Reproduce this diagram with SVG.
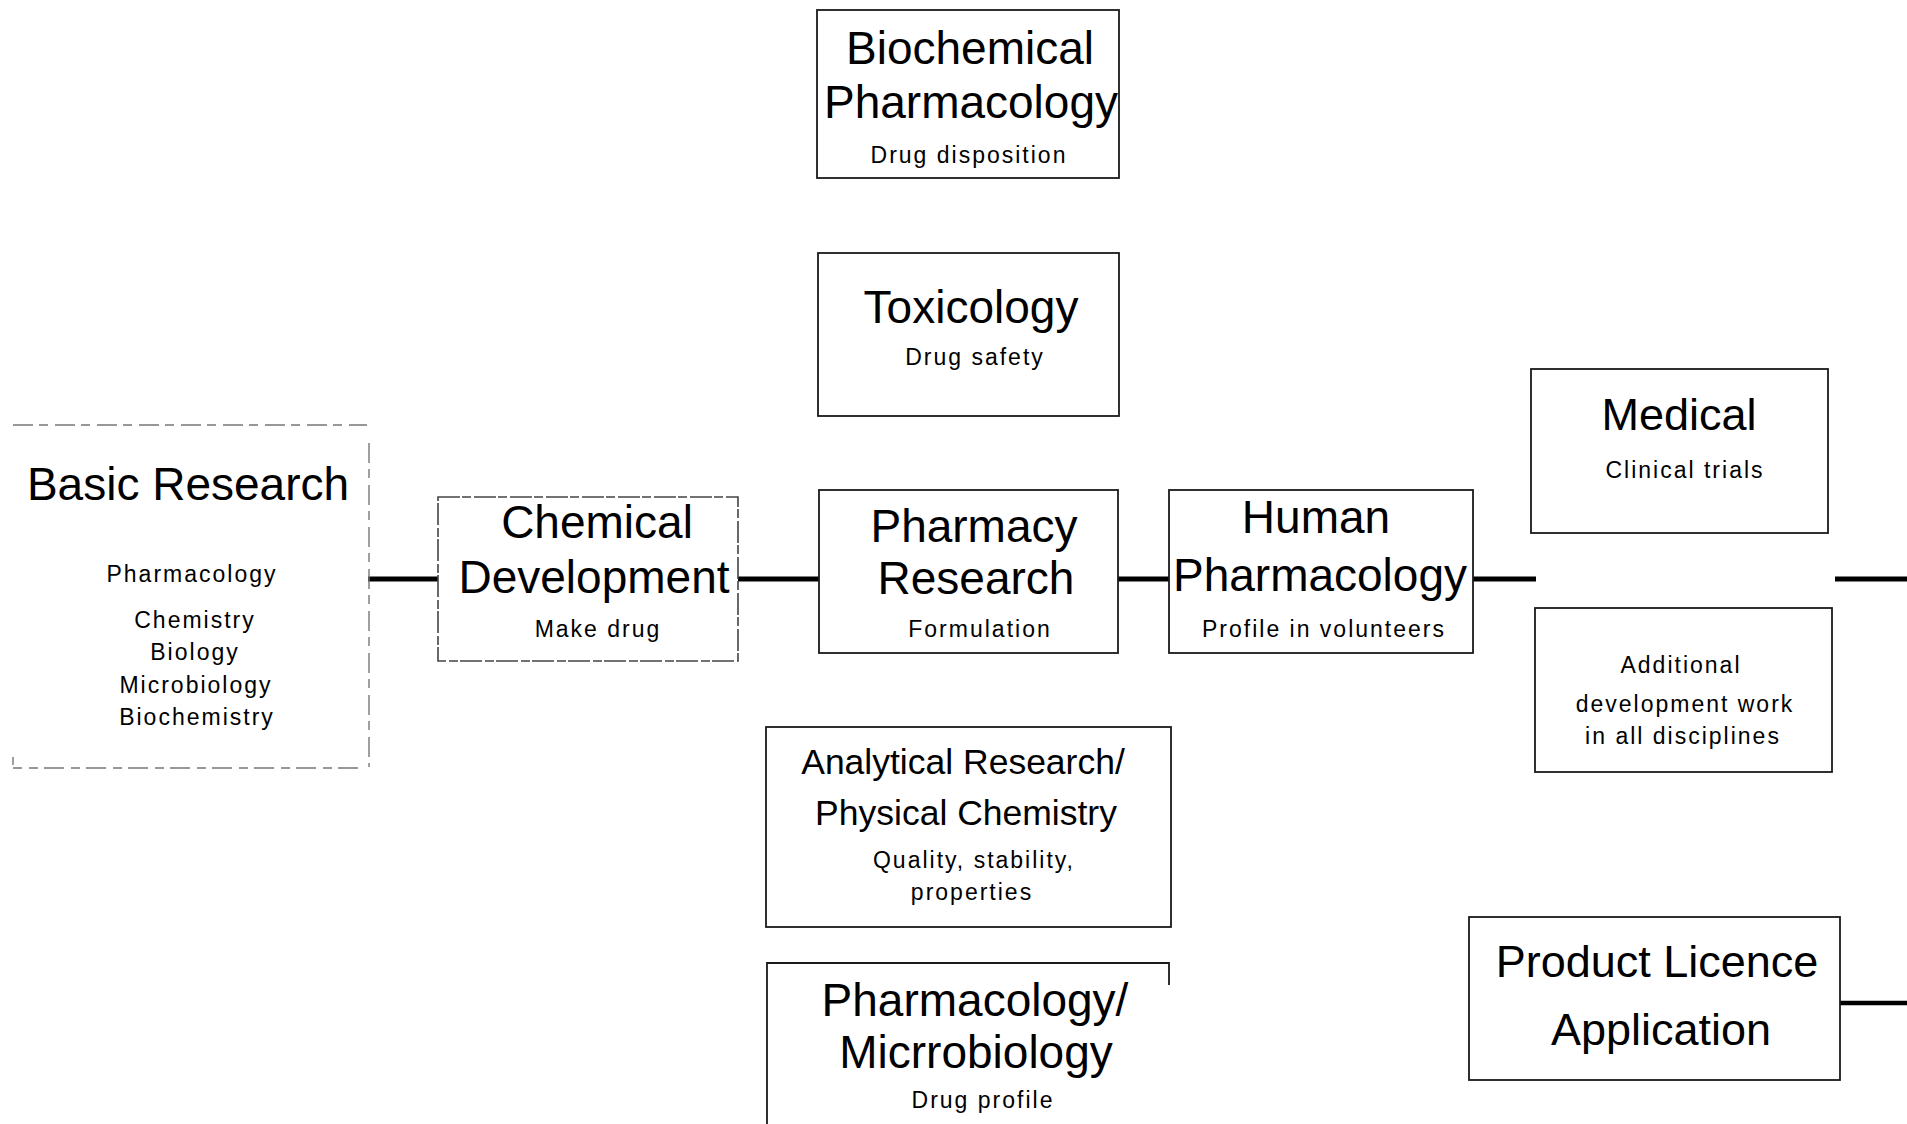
<svg xmlns="http://www.w3.org/2000/svg" width="1907" height="1124" viewBox="0 0 1907 1124">
  <style>
    .box { fill: none; stroke: #1a1a1a; stroke-width: 1.8; }
    .box-dash { fill: none; stroke: #444; stroke-width: 1.6; stroke-dasharray: 22 2 9 3; }
    .box-faint { fill: none; stroke: #777; stroke-width: 1.4; stroke-dasharray: 20 6 9 7; }
    .link { stroke: #000; stroke-width: 5; fill: none; }
    text { font-family: "Liberation Sans", Arial, sans-serif; fill: #000; text-anchor: middle; }
    .title { font-size: 46px; }
    .title-m { font-size: 45px; }
    .title-s { font-size: 35.5px; }
    .sub { font-size: 23px; letter-spacing: 2px; }
  </style>

  <rect width="1907" height="1124" fill="#fff"/>

  <!-- connectors along the main development line -->
  <g id="connectors">
    <line class="link" x1="368" y1="579" x2="438" y2="579"/>
    <line class="link" x1="738" y1="579" x2="819" y2="579"/>
    <line class="link" x1="1118" y1="579" x2="1169" y2="579"/>
    <line class="link" x1="1473" y1="579" x2="1536" y2="579"/>
    <line class="link" x1="1835" y1="579" x2="1907" y2="579"/>
    <line class="link" x1="1840" y1="1003" x2="1907" y2="1003" style="stroke-width:4.5"/>
  </g>

  <g id="basic-research">
    <path class="box-faint" d="M13,425 H367 M369,443 V767 M358,768 H13 M13,757 V765"/>
    <text class="title" x="188" y="500">Basic Research</text>
    <text class="sub" x="192" y="582">Pharmacology</text>
    <text class="sub" x="195" y="628">Chemistry</text>
    <text class="sub" x="195" y="660">Biology</text>
    <text class="sub" x="196" y="693">Microbiology</text>
    <text class="sub" x="197" y="725">Biochemistry</text>
  </g>

  <g id="chemical-development">
    <rect class="box-dash" x="438" y="497" width="300" height="164"/>
    <text class="title" x="597" y="538">Chemical</text>
    <text class="title" x="594" y="593">Development</text>
    <text class="sub" x="598" y="637">Make drug</text>
  </g>

  <g id="biochemical-pharmacology">
    <rect class="box" x="817" y="10" width="302" height="168"/>
    <text class="title" x="970" y="64">Biochemical</text>
    <text class="title" x="971" y="118">Pharmacology</text>
    <text class="sub" x="969" y="163">Drug disposition</text>
  </g>

  <g id="toxicology">
    <rect class="box" x="818" y="253" width="301" height="163"/>
    <text class="title" x="971" y="323">Toxicology</text>
    <text class="sub" x="975" y="365">Drug safety</text>
  </g>

  <g id="pharmacy-research">
    <rect class="box" x="819" y="490" width="299" height="163"/>
    <text class="title" x="974" y="542">Pharmacy</text>
    <text class="title" x="976" y="594">Research</text>
    <text class="sub" x="980" y="637">Formulation</text>
  </g>

  <g id="human-pharmacology">
    <rect class="box" x="1169" y="490" width="304" height="163"/>
    <text class="title" x="1316" y="533">Human</text>
    <text class="title" x="1320" y="591">Pharmacology</text>
    <text class="sub" x="1324" y="637">Profile in volunteers</text>
  </g>

  <g id="analytical-research">
    <rect class="box" x="766" y="727" width="405" height="200"/>
    <text class="title-s" x="963" y="774">Analytical Research/</text>
    <text class="title-s" x="966" y="825">Physical Chemistry</text>
    <text class="sub" x="974" y="868">Quality, stability,</text>
    <text class="sub" x="972" y="900">properties</text>
  </g>

  <g id="pharmacology-microbiology">
    <path class="box" d="M767,1124 V963 H1169 V985"/>
    <text class="title" x="975" y="1016">Pharmacology/</text>
    <text class="title" x="976" y="1068">Micrrobiology</text>
    <text class="sub" x="983" y="1108">Drug profile</text>
  </g>

  <g id="medical">
    <rect class="box" x="1531" y="369" width="297" height="164"/>
    <text class="title-m" x="1679" y="430">Medical</text>
    <text class="sub" x="1685" y="478">Clinical trials</text>
  </g>

  <g id="additional-development">
    <rect class="box" x="1535" y="608" width="297" height="164"/>
    <text class="sub" x="1681" y="673">Additional</text>
    <text class="sub" x="1685" y="712">development work</text>
    <text class="sub" x="1683" y="744">in all disciplines</text>
  </g>

  <g id="product-licence">
    <rect class="box" x="1469" y="917" width="371" height="163"/>
    <text class="title-m" x="1657" y="977">Product Licence</text>
    <text class="title-m" x="1661" y="1045">Application</text>
  </g>
</svg>
